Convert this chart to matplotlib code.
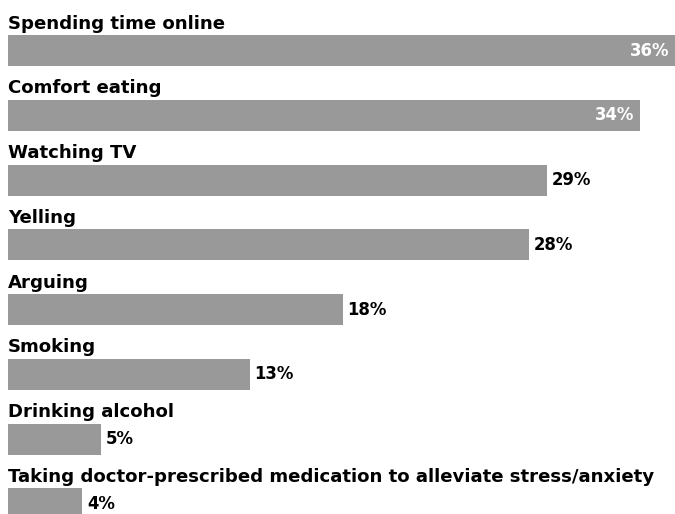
import matplotlib
matplotlib.use('Agg')
import matplotlib.pyplot as plt

categories = [
    'Spending time online',
    'Comfort eating',
    'Watching TV',
    'Yelling',
    'Arguing',
    'Smoking',
    'Drinking alcohol',
    'Taking doctor-prescribed medication to alleviate stress/anxiety',
]
values = [36, 34, 29, 28, 18, 13, 5, 4]

bar_color = '#999999'
W, H = 675, 514
step = 64.76      # px between rows
bar_h = 31 / step

fig = plt.figure(figsize=(W / 100, H / 100), dpi=100)
ax = fig.add_axes([8 / W, 0, (W - 8) / W, 1])
ax.set_xlim(0, (W - 8) / 18.6)
ax.set_ylim((H - 50.5) / step, -50.5 / step)
ax.axis('off')

ax.barh(range(len(values)), values, height=bar_h, color=bar_color)

px = 1 / 18.6  # data units per pixel along x
for i, (cat, v) in enumerate(zip(categories, values)):
    ax.text(0, i - bar_h / 2 - 6.5 / step, cat, ha='left', va='baseline',
            fontsize=13.1, fontweight='bold', family='DejaVu Sans',
            color='black', clip_on=False)
    label = f'{v}%'
    if v >= 30:
        x_end = min(v, ax.get_xlim()[1])
        ax.text(x_end - 6 * px, i, label, ha='right', va='center',
                fontsize=11.9, fontweight='bold', color='white')
    else:
        ax.text(v + 4.5 * px, i, label, ha='left', va='center',
                fontsize=11.9, fontweight='bold', color='black')

fig.savefig('out.png', dpi=100)
